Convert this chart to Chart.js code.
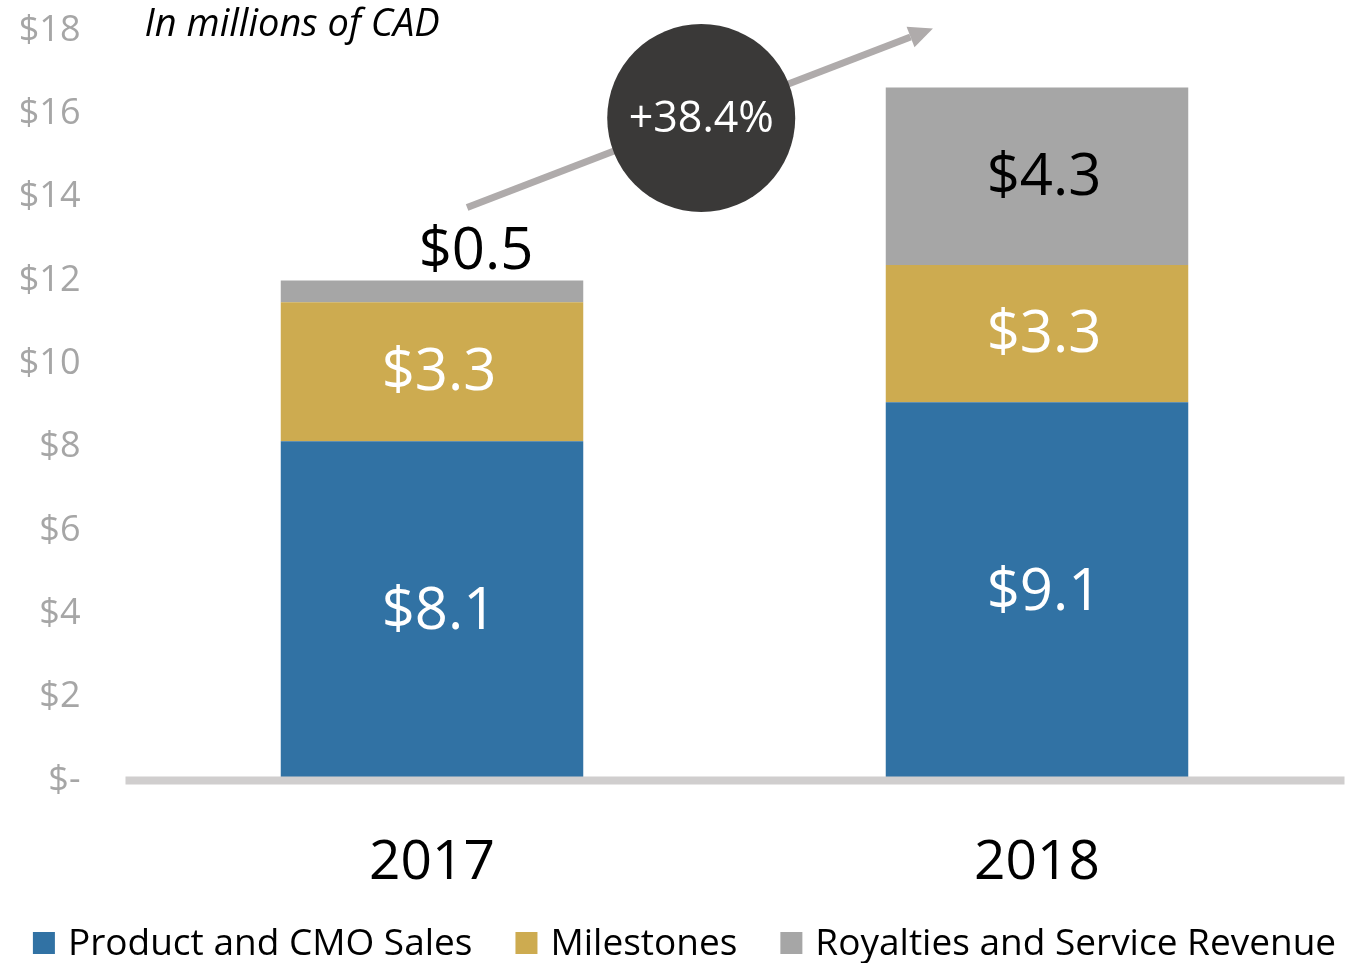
<!DOCTYPE html>
<html>
<head>
<meta charset="utf-8">
<script src="https://cdn.jsdelivr.net/npm/chart.js@4.4.0/dist/chart.umd.min.js"></script>
<style>
  html, body { margin: 0; padding: 0; background: #fff; }
  #wrap { width: 1349px; height: 963px; }
</style>
</head>
<body>
<div id="wrap"><canvas id="c" width="1349" height="963"></canvas></div>
<script>
// values (millions of CAD)
const years = ["2017", "2018"];
const productSales = [8.14, 9.08];
const milestones = [3.34, 3.29];
const royalties = [0.52, 4.26];
const seriesNames = ["Product and CMO Sales", "Milestones", "Royalties and Service Revenue"];
const yMax = 18;
const yStep = 2;
const growthLabel = "+38.4%";
const unitNote = "In millions of CAD";

const FONT = "'Open Sans', 'Noto Sans', sans-serif";
const colors = ["#3172a4", "#cdab50", "#a6a6a6"];
const labelColors = ["#ffffff", "#ffffff", "#000000"];

const fmt = (v) => "$" + v.toFixed(1);

// thick grey baseline under the bars
const baseLine = {
  id: "baseLine",
  afterDatasetsDraw(chart) {
    const { ctx, chartArea } = chart;
    const y0 = chart.scales.y.getPixelForValue(0);
    ctx.save();
    ctx.fillStyle = "#d0cece";
    ctx.fillRect(chartArea.left - 4, y0 - 4, chartArea.right - chartArea.left + 9, 8);
    ctx.restore();
  }
};

// value labels inside / above each segment
const segLabels = {
  id: "segLabels",
  afterDatasetsDraw(chart) {
    const { ctx } = chart;
    ctx.save();
    ctx.font = "58px " + FONT;
    ctx.textAlign = "center";
    ctx.textBaseline = "middle";
    chart.data.datasets.forEach((ds, di) => {
      const meta = chart.getDatasetMeta(di);
      meta.data.forEach((bar, i) => {
        const v = ds.data[i];
        const h = Math.abs(bar.base - bar.y);
        let x = bar.x + 7, y = (bar.y + bar.base) / 2 + 2;
        if (h < 60) {
          // too thin: put it above the bar, slightly to the right
          x = bar.x + 44;
          y = bar.y - 28;
          ctx.fillStyle = "#000";
        } else {
          ctx.fillStyle = labelColors[di];
        }
        ctx.fillText(fmt(v), x, y);
      });
    });
    ctx.restore();
  }
};

// legend row along the bottom edge
const bottomLegend = {
  id: "bottomLegend",
  afterDraw(chart) {
    const { ctx, width } = chart;
    const box = 22, gap = 13, itemGap = 43, y = 943;
    ctx.save();
    ctx.font = "37px " + FONT;
    ctx.textBaseline = "middle";
    ctx.textAlign = "left";
    const items = chart.data.datasets.map((ds) => ({
      text: ds.label, color: ds.backgroundColor, w: ctx.measureText(ds.label).width
    }));
    const total = items.reduce((s, it) => s + box + gap + it.w, 0) + itemGap * (items.length - 1);
    let x = (width - total) / 2 + 10;
    items.forEach((it) => {
      ctx.fillStyle = it.color;
      ctx.fillRect(x, y - box / 2, box, box);
      ctx.fillStyle = "#000";
      ctx.fillText(it.text, x + box + gap, y + 1);
      x += box + gap + it.w + itemGap;
    });
    ctx.restore();
  }
};

// growth arrow, bubble and unit note
const notes = {
  id: "notes",
  afterDraw(chart) {
    const { ctx, chartArea } = chart;
    const xs = chart.scales.x, ys = chart.scales.y;
    const x1 = xs.getPixelForValue(0.058), y1 = ys.getPixelForValue(13.75);
    const x2 = xs.getPixelForValue(0.828), y2 = ys.getPixelForValue(18.05);
    const ang = Math.atan2(y2 - y1, x2 - x1);
    const head = 24, hw = 11;
    ctx.save();
    ctx.strokeStyle = "#afabab";
    ctx.fillStyle = "#afabab";
    ctx.lineWidth = 7;
    ctx.beginPath();
    ctx.moveTo(x1, y1);
    ctx.lineTo(x2 - head * Math.cos(ang), y2 - head * Math.sin(ang));
    ctx.stroke();
    ctx.beginPath();
    ctx.moveTo(x2, y2);
    ctx.lineTo(x2 - head * Math.cos(ang) + hw * Math.sin(ang), y2 - head * Math.sin(ang) - hw * Math.cos(ang));
    ctx.lineTo(x2 - head * Math.cos(ang) - hw * Math.sin(ang), y2 - head * Math.sin(ang) + hw * Math.cos(ang));
    ctx.closePath();
    ctx.fill();

    const cx = xs.getPixelForValue(0.445), cy = ys.getPixelForValue(15.9);
    ctx.fillStyle = "#3a3938";
    ctx.beginPath();
    ctx.arc(cx, cy, 94, 0, Math.PI * 2);
    ctx.fill();
    ctx.fillStyle = "#fff";
    ctx.font = "43px " + FONT;
    ctx.textAlign = "center";
    ctx.textBaseline = "middle";
    ctx.fillText(growthLabel, cx, cy + 2);

    ctx.fillStyle = "#000";
    ctx.font = "italic 38px " + FONT;
    ctx.textAlign = "left";
    ctx.fillText(unitNote, chartArea.left + 15, ys.getPixelForValue(yMax) - 5);
    ctx.restore();
  }
};

new Chart(document.getElementById("c"), {
  type: "bar",
  data: {
    labels: years,
    datasets: [
      { label: seriesNames[0], data: productSales, backgroundColor: colors[0] },
      { label: seriesNames[1], data: milestones, backgroundColor: colors[1] },
      { label: seriesNames[2], data: royalties, backgroundColor: colors[2] }
    ]
  },
  options: {
    responsive: false,
    animation: false,
    devicePixelRatio: 1,
    layout: { padding: { top: 30.5, right: 9.5, left: 0, bottom: 80 } },
    datasets: { bar: { categoryPercentage: 1, barPercentage: 0.5, borderWidth: 0 } },
    scales: {
      x: {
        stacked: true,
        grid: { display: false, drawTicks: false },
        border: { display: false },
        ticks: { color: "#000", font: { family: FONT, size: 55 }, padding: 50 },
        afterFit(s) { s.height = 102.5; s.paddingLeft = 0; s.paddingRight = 0; }
      },
      y: {
        stacked: true,
        min: 0,
        max: yMax,
        grid: { display: false, drawTicks: false },
        border: { display: false },
        ticks: {
          stepSize: yStep,
          color: "#a6a6a6",
          font: { family: FONT, size: 36 },
          padding: 49,
          callback: (v) => (v === 0 ? "$-" : "$" + v)
        },
        afterFit(s) { s.width = 129.5; s.paddingTop = 0; s.paddingBottom = 0; }
      }
    },
    plugins: {
      legend: { display: false },
      tooltip: { enabled: false }
    }
  },
  plugins: [baseLine, segLabels, notes, bottomLegend]
});
</script>
</body>
</html>
